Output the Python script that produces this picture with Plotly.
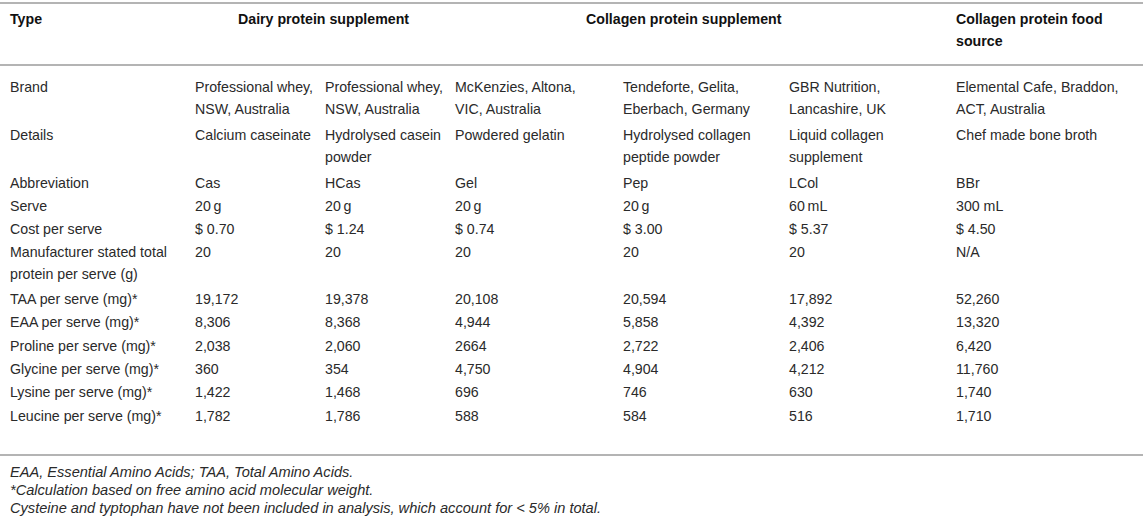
import plotly.graph_objects as go

# Table content

group_headers = ['Dairy protein supplement', 'Collagen protein supplement',
                 'Collagen protein food<br>source']

row_labels = ['Brand', 'Details', 'Abbreviation', 'Serve', 'Cost per serve',
              'Manufacturer stated total<br>protein per serve (g)',
              'TAA per serve (mg)*', 'EAA per serve (mg)*',
              'Proline per serve (mg)*', 'Glycine per serve (mg)*',
              'Lysine per serve (mg)*', 'Leucine per serve (mg)*']

brand = ['Professional whey,<br>NSW, Australia', 'Professional whey,<br>NSW, Australia',
         'McKenzies, Altona,<br>VIC, Australia', 'Tendeforte, Gelita,<br>Eberbach, Germany',
         'GBR Nutrition,<br>Lancashire, UK', 'Elemental Cafe, Braddon,<br>ACT, Australia']
details = ['Calcium caseinate', 'Hydrolysed casein<br>powder', 'Powdered gelatin',
           'Hydrolysed collagen<br>peptide powder', 'Liquid collagen<br>supplement',
           'Chef made bone broth']
abbreviation = ['Cas', 'HCas', 'Gel', 'Pep', 'LCol', 'BBr']
serve = ['20\u2009g', '20\u2009g', '20\u2009g', '20\u2009g', '60\u2009mL', '300 mL']
cost = ['$ 0.70', '$ 1.24', '$ 0.74', '$ 3.00', '$ 5.37', '$ 4.50']
stated_protein = ['20', '20', '20', '20', '20', 'N/A']
taa = ['19,172', '19,378', '20,108', '20,594', '17,892', '52,260']
eaa = ['8,306', '8,368', '4,944', '5,858', '4,392', '13,320']
proline = ['2,038', '2,060', '2664', '2,722', '2,406', '6,420']
glycine = ['360', '354', '4,750', '4,904', '4,212', '11,760']
lysine = ['1,422', '1,468', '696', '746', '630', '1,740']
leucine = ['1,782', '1,786', '588', '584', '516', '1,710']

footnotes = ['EAA, Essential Amino Acids; TAA, Total Amino Acids.',
             '*Calculation based on free amino acid molecular weight.',
             'Cysteine and typtophan have not been included in analysis, which account for < 5% in total.']

body = [brand, details, abbreviation, serve, cost, stated_protein,
        taa, eaa, proline, glycine, lysine, leucine]

# Layout geometry (pixels, top-left origin)
W, H = 1143, 530
col_x = [8, 193, 323, 453, 621, 787, 954]
row_y = [87, 135, 183, 206, 229, 252, 299, 322, 345.5, 369, 392, 415.5]
header_y = 19
group_x = [323, 684, 954]
rules_y = [3, 65, 455]
foot_y = [472, 490, 508]
line_h = 22
FONT = 'Liberation Sans, Arial, sans-serif'
TXT = '#2a2a2a'
HEAD = '#111111'
RULE = '#b4b4b4'
FS = 14.2

annotations = []


def add_cell(x, y, text, bold=False, italic=False, anchor='left', size=FS):
    for i, part in enumerate(text.split('<br>')):
        t = part
        if bold:
            t = '<b>' + t + '</b>'
        if italic:
            t = '<i>' + t + '</i>'
        annotations.append(dict(x=x, y=y + i * line_h, xref='x', yref='y', text=t,
                                showarrow=False, xanchor=anchor, yanchor='middle',
                                font=dict(family=FONT, size=size,
                                          color=HEAD if bold else TXT)))


# header
add_cell(col_x[0], header_y, 'Type', bold=True)
add_cell(group_x[0], header_y, group_headers[0], bold=True, anchor='center')
add_cell(group_x[1], header_y, group_headers[1], bold=True, anchor='center')
add_cell(group_x[2], header_y, group_headers[2], bold=True)

# body
for label, values, y in zip(row_labels, body, row_y):
    add_cell(col_x[0], y, label)
    for j, v in enumerate(values):
        add_cell(col_x[j + 1], y, v)

# footnotes
for note, y in zip(footnotes, foot_y):
    add_cell(col_x[0], y, note, italic=True, size=14.6)

shapes = [dict(type='line', xref='x', yref='y', x0=0, x1=W, y0=yy, y1=yy,
               line=dict(color=RULE, width=2)) for yy in rules_y]

fig = go.Figure()
fig.update_layout(
    width=W, height=H,
    margin=dict(l=0, r=0, t=0, b=0),
    paper_bgcolor='white', plot_bgcolor='white',
    xaxis=dict(range=[0, W], visible=False, fixedrange=True),
    yaxis=dict(range=[H, 0], visible=False, fixedrange=True),
    annotations=annotations, shapes=shapes,
    showlegend=False,
)

# drop the default body margin so the table sits flush with the window
fig.write_html('out.html', config={'displayModeBar': False},
               post_script="document.body.style.margin='0';")
